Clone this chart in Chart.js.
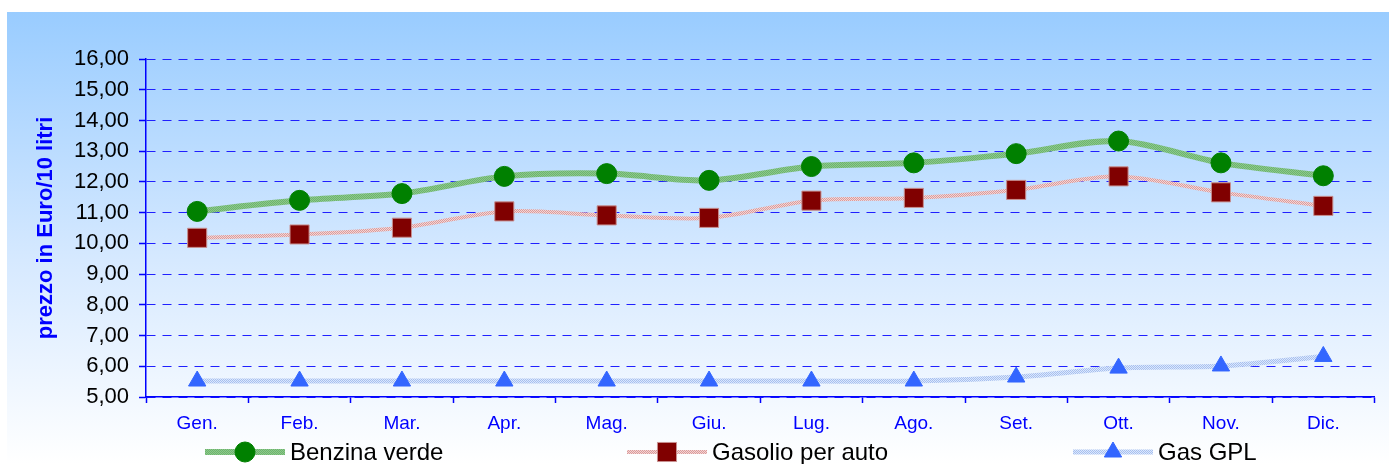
<!DOCTYPE html>
<html>
<head>
<meta charset="utf-8">
<script src="https://cdn.jsdelivr.net/npm/chart.js@4/dist/chart.umd.min.js"></script>
<style>
  html, body { margin: 0; padding: 0; background: #fff; }
  #wrap { width: 1389px; height: 464px; }
</style>
</head>
<body>
<div id="wrap"><canvas id="c" width="1389" height="464"></canvas></div>
<script>
const months = ['Gen.', 'Feb.', 'Mar.', 'Apr.', 'Mag.', 'Giu.', 'Lug.', 'Ago.', 'Set.', 'Ott.', 'Nov.', 'Dic.']
const benzina = [11.04, 11.40, 11.62, 12.18, 12.27, 12.05, 12.50, 12.62, 12.92, 13.33, 12.62, 12.20]
const gasolio = [10.18, 10.29, 10.51, 11.04, 10.91, 10.83, 11.39, 11.48, 11.74, 12.18, 11.66, 11.22]
const gpl = [5.52, 5.52, 5.52, 5.52, 5.52, 5.52, 5.52, 5.52, 5.65, 5.94, 6.01, 6.32]
const yMin = 5
const yMax = 16

const FONT = "'Liberation Sans', Arial, sans-serif"

// small checker pattern, gives the lines the dotted look of the original
function checker(c1, c2) {
  const p = document.createElement('canvas')
  p.width = 2
  p.height = 2
  const pc = p.getContext('2d')
  pc.fillStyle = c1
  pc.fillRect(0, 0, 2, 2)
  pc.fillStyle = c2
  pc.fillRect(0, 0, 1, 1)
  pc.fillRect(1, 1, 1, 1)
  return pc.createPattern(p, 'repeat')
}

// background: white margin, then a light blue to white gradient
const bgPlugin = {
  id: 'bg',
  beforeDraw(chart) {
    const ctx = chart.ctx
    ctx.save()
    ctx.fillStyle = '#ffffff'
    ctx.fillRect(0, 0, chart.width, chart.height)
    const g = ctx.createLinearGradient(0, 12, 0, chart.height)
    g.addColorStop(0, '#99ccff')
    g.addColorStop(0.55, '#d6e9ff')
    g.addColorStop(1, '#ffffff')
    ctx.fillStyle = g
    ctx.fillRect(7, 12, chart.width - 7, chart.height - 12)
    ctx.restore()
  }
}

// spread-out legend along the bottom, like the original
const legendPlugin = {
  id: 'bottomLegend',
  afterDraw(chart) {
    const ctx = chart.ctx
    const starts = [205, 627, 1073]
    const y = 452
    ctx.save()
    chart.data.datasets.forEach((ds, i) => {
      const x0 = starts[i]
      ctx.strokeStyle = ds.borderColor
      ctx.lineWidth = ds.borderWidth
      ctx.beginPath()
      ctx.moveTo(x0, y)
      ctx.lineTo(x0 + 80, y)
      ctx.stroke()
      ctx.fillStyle = ds.pointBackgroundColor
      ctx.strokeStyle = ds.pointBorderColor
      ctx.lineWidth = 1
      Chart.helpers.drawPoint(ctx, { pointStyle: ds.pointStyle, radius: ds.pointRadius, borderWidth: 1 }, x0 + 40, y)
      ctx.fillStyle = '#000'
      ctx.font = '24px ' + FONT
      ctx.textBaseline = 'middle'
      ctx.textAlign = 'left'
      ctx.fillText(ds.label, x0 + 85, y + 1)
    })
    ctx.restore()
  }
}

new Chart(document.getElementById('c'), {
  type: 'line',
  data: {
    labels: months,
    datasets: [
      {
        label: 'Benzina verde',
        data: benzina,
        borderColor: checker('#8cc88c', '#6db46d'),
        borderWidth: 6,
        pointStyle: 'circle',
        pointRadius: 10,
        pointBackgroundColor: '#008000',
        pointBorderColor: '#008000',
        pointBorderWidth: 1
      },
      {
        label: 'Gasolio per auto',
        data: gasolio,
        borderColor: checker('#f2d6d6', '#dc9a9a'),
        borderWidth: 4,
        pointStyle: 'rect',
        pointRadius: 13.5,
        pointBackgroundColor: '#800000',
        pointBorderColor: '#c89090',
        pointBorderWidth: 1
      },
      {
        label: 'Gas GPL',
        data: gpl,
        borderColor: checker('#dce8fb', '#a6bff0'),
        borderWidth: 5,
        pointStyle: 'triangle',
        pointRadius: 10,
        pointBackgroundColor: '#3366ff',
        pointBorderColor: '#3366ff',
        pointBorderWidth: 1
      }
    ]
  },
  options: {
    responsive: false,
    animation: false,
    elements: { line: { tension: 0.3 } },
    layout: { padding: { left: 33, top: 59, right: 5, bottom: 0 } },
    plugins: {
      legend: { display: false },
      tooltip: { enabled: false }
    },
    scales: {
      x: {
        offset: true,
        grid: {
          offset: true,
          drawOnChartArea: false,
          drawTicks: true,
          tickLength: 6,
          tickColor: '#0000ff',
          tickWidth: 1.5
        },
        border: { color: '#0000ff', width: 1.5 },
        ticks: {
          color: '#0000ff',
          font: { family: FONT, size: 19 },
          padding: 9,
          maxRotation: 0
        },
        afterFit(scale) { scale.height = 67 }
      },
      y: {
        min: yMin,
        max: yMax,
        ticks: {
          stepSize: 1,
          color: '#000',
          font: { family: FONT, size: 22 },
          padding: 10,
          callback: v => v.toFixed(2).replace('.', ',')
        },
        grid: {
          color: '#2020ff',
          lineWidth: 1,
          tickLength: 7,
          tickColor: '#0000ff',
          tickBorderDash: [1, 0],
          tickWidth: 1.5
        },
        border: { color: '#0000ff', width: 1.5, dash: [9, 7] },
        title: {
          display: true,
          text: 'prezzo in Euro/10 litri',
          color: '#0000ff',
          font: { family: FONT, size: 22, weight: 'bold' },
          padding: 0
        },
        afterFit(scale) { scale.width = 113 }
      }
    }
  },
  plugins: [bgPlugin, legendPlugin]
})
</script>
</body>
</html>
